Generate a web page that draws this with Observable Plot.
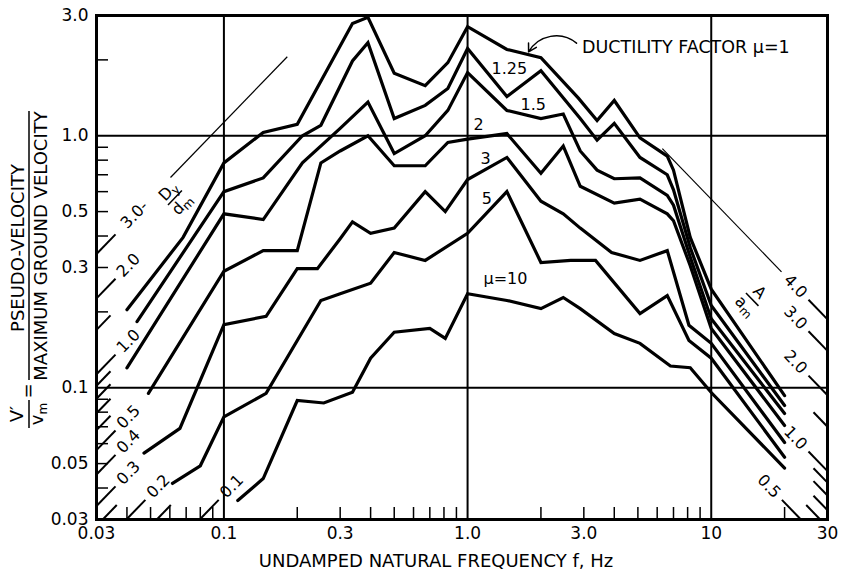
<!DOCTYPE html>
<html>
<head>
<meta charset="utf-8">
<script src="https://cdn.jsdelivr.net/npm/d3@7"></script>
<script src="https://cdn.jsdelivr.net/npm/@observablehq/plot@0.6"></script>
<style>
  html, body { margin: 0; padding: 0; background: #fff; overflow: hidden; }
  #chart svg { display: block; }
</style>
</head>
<body>
<div id="chart"></div>
<script>
// ---------- data ----------
const ductility = ["1", "1.25", "1.5", "2", "3", "5", "10"];

const mu1F = [0.040,0.068,0.10,0.145,0.20,0.337,0.39,0.50,0.67,0.83,1.0,1.45,2.0,2.85,3.4,4.0,5.1,6.6,7.0,8.2,10,20];
const mu1V = [0.204,0.395,0.78,1.03,1.11,2.79,2.95,1.77,1.58,1.95,2.71,2.20,2.04,1.41,1.15,1.38,0.98,0.83,0.73,0.395,0.246,0.093];

const mu125F = [0.044,0.10,0.145,0.21,0.25,0.337,0.39,0.50,0.67,0.83,1.0,1.45,2.0,2.9,3.4,4.0,5.1,6.6,7.0,8.2,10,20];
const mu125V = [0.183,0.60,0.68,1.00,1.10,1.98,2.34,1.17,1.32,1.54,2.22,1.43,1.81,1.17,0.96,1.12,0.82,0.70,0.61,0.36,0.212,0.085];

const mu15F = [0.040,0.10,0.145,0.21,0.30,0.39,0.50,0.67,0.83,1.0,1.45,2.0,2.47,2.9,3.4,4.0,5.1,6.6,7.0,8.2,10,20];
const mu15V = [0.120,0.49,0.465,0.78,1.07,1.36,0.85,1.00,1.26,1.78,1.26,1.17,1.22,0.87,0.73,0.675,0.68,0.58,0.53,0.33,0.188,0.079];

const mu2F = [0.049,0.10,0.145,0.20,0.25,0.30,0.39,0.50,0.67,0.83,1.0,1.45,2.0,2.47,2.9,4.0,5.1,6.6,7.0,8.2,10,20];
const mu2V = [0.095,0.29,0.35,0.35,0.78,0.87,1.00,0.76,0.76,0.94,0.97,1.02,0.71,0.91,0.63,0.54,0.56,0.49,0.46,0.305,0.172,0.0708];

const mu3F = [0.047,0.066,0.10,0.149,0.20,0.242,0.30,0.337,0.40,0.50,0.67,0.81,1.0,1.45,2.0,2.47,2.9,3.9,5.1,6.6,8.1,10,20];
const mu3V = [0.055,0.069,0.178,0.192,0.297,0.297,0.39,0.455,0.41,0.43,0.60,0.50,0.67,0.82,0.55,0.49,0.43,0.344,0.32,0.35,0.177,0.150,0.0606];

const mu5F = [0.0615,0.080,0.10,0.149,0.25,0.30,0.40,0.50,0.67,1.0,1.45,2.0,2.65,3.35,5.1,6.6,8.1,10,20];
const mu5V = [0.0417,0.049,0.0766,0.095,0.222,0.236,0.26,0.344,0.32,0.41,0.60,0.314,0.32,0.32,0.197,0.232,0.154,0.131,0.053];

const mu10F = [0.114,0.145,0.20,0.257,0.337,0.40,0.50,0.70,0.81,1.0,1.45,2.0,2.47,2.9,4.0,5.1,6.8,8.2,10,20];
const mu10V = [0.0357,0.0436,0.089,0.087,0.096,0.131,0.166,0.172,0.157,0.236,0.222,0.206,0.228,0.206,0.164,0.150,0.122,0.120,0.0957,0.048];

// curve labels
const curveLabelText = ["1.25", "1.5", "2", "3", "5", "\u03BC=10"];
const curveLabelF = [1.485, 1.86, 1.11, 1.185, 1.2, 1.43];
const curveLabelV = [1.85, 1.32, 1.10, 0.81, 0.56, 0.27];
const titleText = "DUCTILITY FACTOR \u03BC=1";
const titlePos = [2.95, 2.24];
const arrowFrom = [2.8, 2.33];
const arrowTo = [1.78, 2.15];

// axes
const xTickValues = [0.03, 0.05, 0.1, 0.3, 0.5, 1, 3, 5, 10, 30];
const xTickLabels = ["0.03", "0.05", "0.1", "0.3", "0.5", "1.0", "3.0", "5.0", "10", "30"];
const yTickValues = [0.03, 0.05, 0.1, 0.3, 0.5, 1, 3];
const yTickLabels = ["0.03", "0.05", "0.1", "0.3", "0.5", "1.0", "3.0"];
const xMinorTicks = [0.04,0.05,0.06,0.07,0.08,0.09,0.2,0.3,0.4,0.5,0.6,0.7,0.8,0.9,2,3,4,5,6,7,8,9,20];
const yMinorTicks = [2,0.9,0.8,0.7,0.6,0.5,0.4,0.3,0.2,0.09,0.08,0.07,0.06,0.05,0.04];
const gridX = [0.1, 1, 10];
const gridY = [0.1, 1];

// constant-displacement (Dy/dm) and constant-acceleration (A/am) guide lines
const kD = 3.77;   // V'/vm = kD * (Dy/dm) * f
const kA = 1.4;    // V'/vm = kA * (A/am) / f
const dispRatios = [3.0, 2.0, 1.5, 1.0, 0.9, 0.8, 0.7, 0.6, 0.5, 0.4, 0.3, 0.25, 0.2, 0.15, 0.1];
const dispLabeled = [3.0, 2.0, 1.0, 0.5, 0.4, 0.3, 0.2, 0.1];
const dispLabelText = ["3.0-", "2.0", "1.0", "0.5", "0.4", "0.3", "0.2", "0.1"];
const accRatios = [4.0, 3.0, 2.0, 1.5, 1.0, 0.9, 0.8, 0.7, 0.6, 0.5];
const accLabeled = [4.0, 3.0, 2.0, 1.0, 0.5];
const accLabelText = ["4.0", "3.0", "2.0", "1.0", "0.5"];
const thinDisp = {ratio: 3.0, fEnd: 0.182};
const thinAcc = {ratio: 4.0, fEnd: 6.3};
const accFracPos = [15, 0.226];

// ---------- layout ----------
const FONT = "'DejaVu Sans', sans-serif";
const W = 844, H = 572, mL = 96, mR = 17, mT = 15, mB = 53;
const xDom = [0.03, 30], yDom = [0.03, 3];
const pxDecX = (W - mL - mR) / Math.log10(xDom[1] / xDom[0]);
const pxDecY = (H - mT - mB) / Math.log10(yDom[1] / yDom[0]);
const ang = Math.atan2(pxDecY, pxDecX) * 180 / Math.PI;
const tickLen = 12;
const xTickTop = yDom[0] * Math.pow(10, tickLen / pxDecY);
const yTickRight = xDom[0] * Math.pow(10, tickLen / pxDecX);

const dStart = D => Math.max(xDom[0], yDom[0] / (kD * D));
const dAt = (D, off) => { const f = dStart(D) * Math.pow(10, off / pxDecX); return {f, v: kD * D * f}; };
const aStart = A => Math.min(xDom[1], kA * A / yDom[0]);
const aAt = (A, off) => { const f = aStart(A) / Math.pow(10, off / pxDecX); return {f, v: kA * A / f}; };

const curveF = [mu1F, mu125F, mu15F, mu2F, mu3F, mu5F, mu10F];
const curveV = [mu1V, mu125V, mu15V, mu2V, mu3V, mu5V, mu10V];
const rows = [];
ductility.forEach((mu, i) => curveF[i].forEach((f, j) => rows.push({mu, f, v: curveV[i][j]})));

const dispSegs = dispRatios.map(D => {
  const lab = dispLabeled.includes(D);
  const a = dAt(D, 0), b = dAt(D, lab ? 19 : 14);
  return {x1: a.f, y1: a.v, x2: b.f, y2: b.v};
});
const dispLabs = dispLabeled.map((D, i) => {
  const p = dAt(D, D === 3.0 ? 38 : 32);
  return {f: p.f, v: p.v, t: dispLabelText[i]};
});
const accSegs = accRatios.map(A => {
  const lab = accLabeled.includes(A);
  const a = aAt(A, 0), b = aAt(A, lab ? 19 : 14);
  return {x1: a.f, y1: a.v, x2: b.f, y2: b.v};
});
const accLabs = accLabeled.map((A, i) => {
  const p = aAt(A, 32);
  return {f: p.f, v: p.v, t: accLabelText[i]};
});
const thinD0 = dAt(thinDisp.ratio, 74);
const thinA0 = aAt(thinAcc.ratio, 46);
const thinLines = [
  {x1: thinD0.f, y1: thinD0.v, x2: thinDisp.fEnd, y2: kD * thinDisp.ratio * thinDisp.fEnd},
  {x1: thinA0.f, y1: thinA0.v, x2: thinAcc.fEnd, y2: kA * thinAcc.ratio / thinAcc.fEnd}
];
const curveLabs = curveLabelText.map((t, i) => ({t, f: curveLabelF[i], v: curveLabelV[i]}));

const plot = Plot.plot({
  width: W, height: H,
  marginLeft: mL, marginRight: mR, marginTop: mT, marginBottom: mB,
  style: {fontFamily: FONT, fontSize: "17px", color: "black", background: "white"},
  x: {type: "log", domain: xDom},
  y: {type: "log", domain: yDom},
  marks: [
    Plot.axisX(xTickValues, {tickSize: 0, tickPadding: 7, label: null, fontSize: 17,
      tickFormat: d => xTickLabels[xTickValues.indexOf(d)]}),
    Plot.axisY(yTickValues, {tickSize: 0, tickPadding: 8, label: null, fontSize: 17,
      tickFormat: d => yTickLabels[yTickValues.indexOf(d)]}),
    Plot.ruleX(gridX, {stroke: "black", strokeWidth: 2}),
    Plot.ruleY(gridY, {stroke: "black", strokeWidth: 2}),
    Plot.ruleX(xMinorTicks, {y1: yDom[0], y2: xTickTop, stroke: "black", strokeWidth: 1.5}),
    Plot.ruleY(yMinorTicks, {x1: xDom[0], x2: yTickRight, stroke: "black", strokeWidth: 1.5}),
    Plot.link(dispSegs, {x1: "x1", y1: "y1", x2: "x2", y2: "y2", stroke: "black", strokeWidth: 2}),
    Plot.link(accSegs, {x1: "x1", y1: "y1", x2: "x2", y2: "y2", stroke: "black", strokeWidth: 2}),
    Plot.link(thinLines, {x1: "x1", y1: "y1", x2: "x2", y2: "y2", stroke: "black", strokeWidth: 1.2}),
    Plot.text(dispLabs, {x: "f", y: "v", text: "t", rotate: -ang, fontSize: 16, textAnchor: "middle", lineAnchor: "middle", fill: "black"}),
    Plot.text(accLabs, {x: "f", y: "v", text: "t", rotate: ang, fontSize: 16, textAnchor: "middle", lineAnchor: "middle", fill: "black"}),
    Plot.line(rows, {x: "f", y: "v", z: "mu", stroke: "black", strokeWidth: 3.2, strokeLinejoin: "miter", strokeMiterlimit: 3}),
    Plot.text(curveLabs, {x: "f", y: "v", text: "t", fontSize: 16, textAnchor: "middle", lineAnchor: "middle", fill: "black"}),
    Plot.text([titleText], {x: titlePos[0], y: titlePos[1], text: d => d, fontSize: 17.5, textAnchor: "start", lineAnchor: "middle", fill: "black"}),
    Plot.arrow([{a: 0}], {x1: arrowFrom[0], y1: arrowFrom[1], x2: arrowTo[0], y2: arrowTo[1], bend: -50, stroke: "black", strokeWidth: 1.5, headLength: 9}),
    Plot.frame({stroke: "black", strokeWidth: 3})
  ]
});

document.getElementById("chart").appendChild(plot);

// ---------- annotations drawn with the plot's scales ----------
const sx = plot.scale("x"), sy = plot.scale("y");
const svg = d3.select(plot);

function fraction(cx, cy, rot, num, numSub, den, denSub, o) {
  const g = svg.append("g")
    .attr("transform", `translate(${cx},${cy}) rotate(${rot})`)
    .attr("font-family", FONT).attr("font-size", 16).attr("text-anchor", "middle").attr("fill", "black");
  const t1 = g.append("text").attr("y", o.numY);
  t1.append("tspan").text(num);
  if (numSub) t1.append("tspan").attr("font-size", 12).attr("dy", 3).text(numSub);
  g.append("line").attr("x1", -o.half).attr("x2", o.half).attr("y1", o.barY).attr("y2", o.barY)
    .attr("stroke", "black").attr("stroke-width", 1.5);
  const t2 = g.append("text").attr("y", o.denY);
  t2.append("tspan").text(den);
  if (denSub) t2.append("tspan").attr("font-size", 12).attr("dy", 3).text(denSub);
}

const dFrac = dAt(3.0, 66);
fraction(sx.apply(dFrac.f), sy.apply(dFrac.v), -ang, "D", "y", "d", "m", {numY: 14, barY: 18, denY: 33, half: 10});
fraction(sx.apply(accFracPos[0]), sy.apply(accFracPos[1]), ang, "A", null, "a", "m", {numY: -3, barY: 2, denY: 17, half: 9});

// y-axis title
const yt = svg.append("g").attr("font-family", FONT).attr("font-size", 18).attr("fill", "black").attr("text-anchor", "middle");
yt.append("text").attr("transform", "translate(24,248) rotate(-90)").text("PSEUDO-VELOCITY");
yt.append("line").attr("x1", 29).attr("x2", 29).attr("y1", 111).attr("y2", 380).attr("stroke", "black").attr("stroke-width", 1.5);
yt.append("text").attr("transform", "translate(47,246) rotate(-90)").text("MAXIMUM GROUND VELOCITY");
yt.append("text").attr("transform", "translate(34,391) rotate(-90)").text("=");
yt.append("text").attr("transform", "translate(23,414) rotate(-90)").text("V\u2032");
yt.append("line").attr("x1", 29).attr("x2", 29).attr("y1", 400).attr("y2", 428).attr("stroke", "black").attr("stroke-width", 1.5);
const vm = yt.append("text").attr("transform", "translate(43,414) rotate(-90)");
vm.append("tspan").text("v");
vm.append("tspan").attr("font-size", 12).attr("dy", 4).text("m");

// x-axis title
svg.append("text").attr("x", 436).attr("y", 567).attr("text-anchor", "middle")
  .attr("font-family", FONT).attr("font-size", 18).attr("fill", "black")
  .text("UNDAMPED NATURAL FREQUENCY f, Hz");
</script>
</body>
</html>
